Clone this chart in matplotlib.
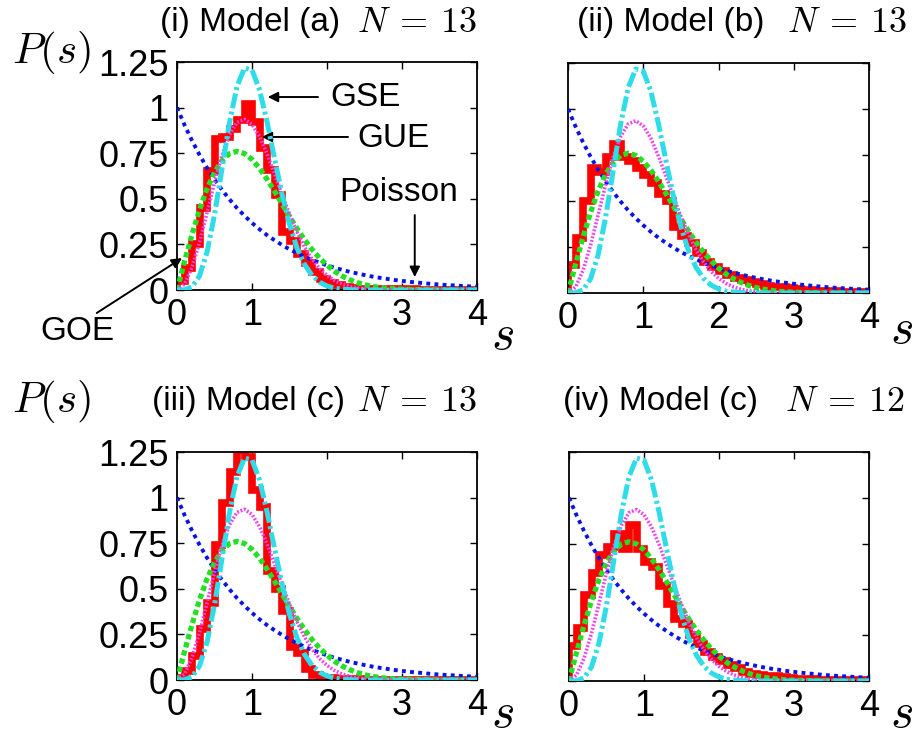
import numpy as np
import matplotlib
matplotlib.use("Agg")
import matplotlib.pyplot as plt

plt.rcParams["font.family"] = ["Liberation Sans", "DejaVu Sans"]
plt.rcParams["mathtext.fontset"] = "cm"

# Histogram bins (width 0.1) and grid of the theory curves:
bin_edges = np.linspace(0.0, 4.0, 41)
s_grid = np.linspace(0.0, 4.0, 41)

# Level spacing histograms:
hist_a = [0.05, 0.12, 0.25, 0.45, 0.65, 0.83, 0.84, 0.88, 0.93, 1.02,
	0.92, 0.78, 0.66, 0.52, 0.32, 0.27, 0.20, 0.15, 0.10, 0.06,
	0.04, 0.025, 0.015, 0.01, 0.008, 0.006, 0.005, 0.004, 0.004, 0.003,
	0.003, 0.003, 0.002, 0.002, 0.002, 0.002, 0.001, 0.001, 0.001, 0.001]
hist_b = [0.15, 0.30, 0.50, 0.68, 0.66, 0.74, 0.81, 0.74, 0.72, 0.68,
	0.64, 0.60, 0.54, 0.50, 0.36, 0.31, 0.27, 0.22, 0.17, 0.14,
	0.12, 0.10, 0.08, 0.07, 0.06, 0.05, 0.04, 0.035, 0.03, 0.025,
	0.02, 0.015, 0.015, 0.01, 0.01, 0.01, 0.005, 0.005, 0.005, 0.005]
hist_c = [0.01, 0.05, 0.13, 0.28, 0.42, 0.74, 0.97, 1.14, 1.26, 1.22,
	1.04, 0.95, 0.60, 0.50, 0.38, 0.18, 0.15, 0.06, 0.03, 0.01,
	0.01, 0.005, 0.005, 0.003, 0.003, 0.002, 0.002, 0.001, 0.001, 0.001,
	0.0, 0.0, 0.0, 0.0, 0.0, 0.0, 0.0, 0.0, 0.0, 0.0]
hist_d = [0.19, 0.29, 0.47, 0.59, 0.69, 0.73, 0.80, 0.72, 0.85, 0.72,
	0.65, 0.62, 0.52, 0.42, 0.34, 0.31, 0.25, 0.20, 0.16, 0.13,
	0.11, 0.09, 0.07, 0.05, 0.04, 0.035, 0.03, 0.025, 0.02, 0.015,
	0.01, 0.01, 0.01, 0.005, 0.005, 0.005, 0.005, 0.003, 0.003, 0.003]

# Reference curves (same in every panel):
poisson_vals = [1.000, 0.905, 0.819, 0.741, 0.670, 0.607, 0.549, 0.497, 0.449, 0.407,
	0.368, 0.333, 0.301, 0.273, 0.247, 0.223, 0.202, 0.183, 0.165, 0.150,
	0.135, 0.122, 0.111, 0.100, 0.091, 0.082, 0.074, 0.067, 0.061, 0.055,
	0.050, 0.045, 0.041, 0.037, 0.033, 0.030, 0.027, 0.025, 0.022, 0.020, 0.018]
goe_vals = [0.000, 0.156, 0.304, 0.439, 0.554, 0.645, 0.710, 0.748, 0.760, 0.748,
	0.716, 0.668, 0.608, 0.542, 0.472, 0.403, 0.337, 0.276, 0.222, 0.175,
	0.136, 0.103, 0.077, 0.057, 0.041, 0.029, 0.020, 0.014, 0.009, 0.006,
	0.004, 0.003, 0.002, 0.001, 0.001, 0.000, 0.000, 0.000, 0.000, 0.000, 0.000]
gue_vals = [0.000, 0.032, 0.123, 0.260, 0.423, 0.590, 0.738, 0.851, 0.919, 0.936,
	0.908, 0.841, 0.746, 0.637, 0.524, 0.416, 0.319, 0.236, 0.170, 0.118,
	0.080, 0.052, 0.033, 0.020, 0.012, 0.007, 0.004, 0.002, 0.001, 0.001,
	0.000, 0.000, 0.000, 0.000, 0.000, 0.000, 0.000, 0.000, 0.000, 0.000, 0.000]
gse_vals = [0.000, 0.001, 0.017, 0.077, 0.207, 0.412, 0.665, 0.918, 1.116, 1.217,
	1.206, 1.098, 0.924, 0.722, 0.527, 0.360, 0.231, 0.140, 0.080, 0.043,
	0.022, 0.010, 0.005, 0.002, 0.001, 0.000, 0.000, 0.000, 0.000, 0.000,
	0.000, 0.000, 0.000, 0.000, 0.000, 0.000, 0.000, 0.000, 0.000, 0.000, 0.000]

panel_titles = ["(i) Model (a)", "(ii) Model (b)", "(iii) Model (c)", "(iv) Model (c)"]
panel_sizes = [r"$N\:=\:13$", r"$N\:=\:13$", r"$N\:=\:13$", r"$N\:=\:12$"]

x_ticks = [0, 1, 2, 3, 4]
y_ticks = [0, 0.25, 0.5, 0.75, 1, 1.25]
y_ticklabels = ["0", "0.25", "0.5", "0.75", "1", "1.25"]

FIG_W = 917
FIG_H = 737


def px_rect(left, top, right, bottom):
	# pixel box (from top left) -> figure fraction rect
	return [left / FIG_W, 1 - bottom / FIG_H, (right - left) / FIG_W, (bottom - top) / FIG_H]
#end_def


def fx(px):
	return px / FIG_W
#end_def


def fy(py):
	return 1 - py / FIG_H
#end_def


def draw_panel(ax, hist, show_ylabels):

	ax.stairs(hist, bin_edges, baseline=0, color="#ff0000", lw=5.5, zorder=2)

	ax.plot(s_grid, poisson_vals, color="#0a14e6", lw=2.8, ls=(0, (1, 1.1)),
		dash_capstyle="butt", zorder=3)
	ax.plot(s_grid, goe_vals, color="#22e022", lw=3.8, ls=(0, (1, 0.6)),
		dash_capstyle="butt", zorder=4)
	ax.plot(s_grid, gue_vals, color="#f040f0", lw=2.6, ls=(0, (0.5, 0.5)),
		dash_capstyle="butt", zorder=5)
	ax.plot(s_grid, gse_vals, color="#2edcea", lw=3.6, ls=(0, (3.0, 0.7, 0.6, 0.7)),
		dash_capstyle="butt", zorder=6)

	ax.set_xlim(0, 4)
	ax.set_ylim(0, 1.25)
	ax.set_xticks(x_ticks)
	ax.set_xticklabels([str(t) for t in x_ticks])
	ax.set_yticks(y_ticks)
	if (show_ylabels):
		ax.set_yticklabels(y_ticklabels)
	else:
		ax.set_yticklabels([])
	#end_if

	ax.tick_params(direction="in", top=True, right=True, length=5, width=1.0,
		labelsize=26, pad=6)
	for spine in ax.spines.values():
		spine.set_linewidth(1.3)
	#end_for

	return
#end_def


fig = plt.figure(figsize=(FIG_W / 100, FIG_H / 100), dpi=100)

rect_list = [px_rect(177, 62, 477, 290), px_rect(568, 63, 869, 293),
	px_rect(177, 452, 477, 680), px_rect(569, 452, 869, 681)]
hist_list = [hist_a, hist_b, hist_c, hist_d]
ylab_list = [True, False, True, False]

# title positions: left of text, right end of N=.., y
title_pos_list = [(160, 477, 22), (577, 907, 22), (152, 477, 402), (563, 905, 402)]
s_pos_list = [(502, 336), (902, 330), (502, 714), (902, 714)]

ax_list = []
for rect, hist, show_y in zip(rect_list, hist_list, ylab_list):
	ax = fig.add_axes(rect)
	draw_panel(ax, hist, show_y)
	ax_list.append(ax)
#end_for

for (left, right, ty), title, size in zip(title_pos_list, panel_titles, panel_sizes):
	fig.text(fx(left), fy(ty), title, fontsize=24, ha="left", va="center")
	fig.text(fx(right), fy(ty), size, fontsize=26, ha="right", va="center")
#end_for

for (sx, sy) in s_pos_list:
	fig.text(fx(sx), fy(sy), "$s$", fontsize=36, ha="center", va="center")
#end_for

fig.text(fx(12), fy(52), "$P(s)$", fontsize=31, ha="left", va="center")
fig.text(fx(12), fy(402), "$P(s)$", fontsize=31, ha="left", va="center")

# Labels with arrows in panel (i):
ax = ax_list[0]
arrow_props = dict(arrowstyle="-|>", color="black", lw=1.4, mutation_scale=15,
	shrinkA=0, shrinkB=0)

ax.annotate("", xy=(1.21, 1.058), xytext=(1.88, 1.058), arrowprops=arrow_props)
ax.text(2.04, 1.058, "GSE", fontsize=24, ha="left", va="center")

ax.annotate("", xy=(1.13, 0.839), xytext=(2.28, 0.839), arrowprops=arrow_props)
ax.text(2.41, 0.83, "GUE", fontsize=24, ha="left", va="center")

ax.text(2.96, 0.532, "Poisson", fontsize=24, ha="center", va="center")
ax.annotate("", xy=(3.17, 0.071), xytext=(3.17, 0.411), arrowprops=arrow_props)

ax.annotate("", xy=(0.067, 0.175), xytext=(-1.07, -0.126), arrowprops=arrow_props,
	annotation_clip=False)
ax.text(-1.33, -0.23, "GOE", fontsize=24, ha="center", va="center", clip_on=False)

fig.savefig("out.png", dpi=100)
